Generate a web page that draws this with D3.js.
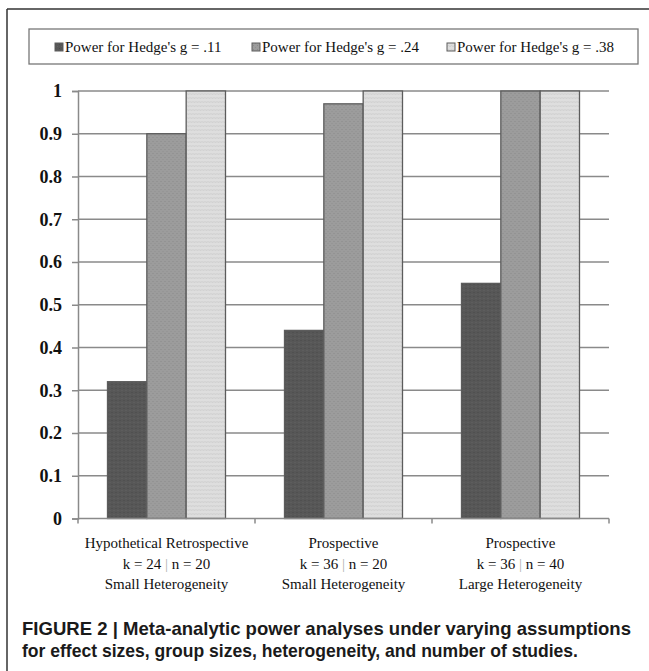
<!DOCTYPE html>
<html>
<head>
<meta charset="utf-8">
<script src="https://cdn.jsdelivr.net/npm/d3@7/dist/d3.min.js"></script>
<style>
  html, body { margin: 0; padding: 0; background: #fff; }
  svg { display: block; }
</style>
</head>
<body>
<svg id="chart" width="649" height="671"></svg>
<script>
// ---- data ----
const categories = [
  ["Hypothetical Retrospective", "k = 24 | n = 20", "Small Heterogeneity"],
  ["Prospective", "k = 36 | n = 20", "Small Heterogeneity"],
  ["Prospective", "k = 36 | n = 40", "Large Heterogeneity"]
];
const seriesNames = ["Power for Hedge's g = .11", "Power for Hedge's g = .24", "Power for Hedge's g = .38"];
const powerG11 = [0.32, 0.44, 0.55];
const powerG24 = [0.90, 0.97, 1.00];
const powerG38 = [1.00, 1.00, 1.00];
const yTicks = [0, 0.1, 0.2, 0.3, 0.4, 0.5, 0.6, 0.7, 0.8, 0.9, 1];
const captionLines = [
  "FIGURE 2 | Meta-analytic power analyses under varying assumptions",
  "for effect sizes, group sizes, heterogeneity, and number of studies."
];

const series = [powerG11, powerG24, powerG38];
const fills = ["url(#patDark)", "url(#patMid)", "url(#patLight)"];

const svg = d3.select("#chart");

// ---- patterns ----
const defs = svg.append("defs");
const pd = defs.append("pattern").attr("id", "patDark").attr("patternUnits", "userSpaceOnUse").attr("width", 4).attr("height", 4);
pd.append("rect").attr("width", 4).attr("height", 4).attr("fill", "#575757");
pd.append("rect").attr("x", 0).attr("y", 0).attr("width", 1).attr("height", 1).attr("fill", "#4a4a4a");
pd.append("rect").attr("x", 2).attr("y", 2).attr("width", 1).attr("height", 1).attr("fill", "#636363");
const pm = defs.append("pattern").attr("id", "patMid").attr("patternUnits", "userSpaceOnUse").attr("width", 4).attr("height", 4);
pm.append("rect").attr("width", 4).attr("height", 4).attr("fill", "#9c9c9c");
pm.append("rect").attr("x", 1).attr("y", 1).attr("width", 1).attr("height", 1).attr("fill", "#8a8a8a");
pm.append("rect").attr("x", 3).attr("y", 3).attr("width", 1).attr("height", 1).attr("fill", "#8f8f8f");
const pl = defs.append("pattern").attr("id", "patLight").attr("patternUnits", "userSpaceOnUse").attr("width", 6).attr("height", 4);
pl.append("rect").attr("width", 6).attr("height", 4).attr("fill", "#dedede");
pl.append("path").attr("d", "M0,3 L1.5,1 L3,3 L4.5,1 L6,3").attr("stroke", "#cdcdcd").attr("stroke-width", 0.8).attr("fill", "none");

// ---- frame ----
svg.append("line").attr("x1", 7).attr("y1", 9).attr("x2", 7).attr("y2", 671).attr("stroke", "#333").attr("stroke-width", 1.5);
svg.append("line").attr("x1", 7).attr("y1", 9).attr("x2", 649).attr("y2", 9).attr("stroke", "#333").attr("stroke-width", 1.5);

// ---- scales ----
const x0 = d3.scaleBand().domain(d3.range(categories.length)).range([78, 609]).paddingInner(1/3).paddingOuter(1/6);
const x1 = d3.scaleBand().domain(d3.range(series.length)).range([0, x0.bandwidth()]);
const y = d3.scaleLinear().domain([0, 1]).range([518.5, 91]);
const step = x0.step();

const gridColor = "#8a8a8a";

// gridlines
svg.append("g").selectAll("line").data(yTicks.slice(1)).join("line")
  .attr("x1", 78).attr("x2", 609)
  .attr("y1", d => y(d)).attr("y2", d => y(d))
  .attr("stroke", gridColor).attr("stroke-width", 1.5);

// bars
const groups = svg.append("g").selectAll("g").data(categories.map((c, i) => i)).join("g")
  .attr("transform", i => `translate(${x0(i)},0)`);
groups.selectAll("rect").data(i => series.map((s, k) => ({ k, v: s[i] }))).join("rect")
  .attr("x", d => x1(d.k))
  .attr("width", x1.bandwidth())
  .attr("y", d => y(d.v))
  .attr("height", d => y(0) - y(d.v))
  .attr("fill", d => fills[d.k])
  .attr("stroke", "#5c5c5c").attr("stroke-width", 1.3);

// y axis
const yAxis = d3.axisLeft(y).tickValues(yTicks).tickSize(6).tickPadding(10)
  .tickFormat(d => d === 0 || d === 1 ? String(d) : d3.format(".1f")(d));
const gy = svg.append("g").attr("transform", "translate(78,0)").call(yAxis);
gy.select(".domain").attr("stroke", gridColor).attr("stroke-width", 1.5);
gy.selectAll(".tick line").attr("stroke", gridColor).attr("stroke-width", 1.5);
gy.selectAll(".tick text")
  .attr("font-family", "'Liberation Serif', 'Times New Roman', serif")
  .attr("font-size", 18).attr("font-weight", "bold").attr("fill", "#111");

// x axis
const gx = svg.append("g").attr("transform", `translate(0,${y(0)})`);
gx.append("line").attr("x1", 78).attr("x2", 609).attr("stroke", gridColor).attr("stroke-width", 1.5);
gx.selectAll("line.tk").data(d3.range(categories.length + 1)).join("line").attr("class", "tk")
  .attr("x1", i => x0.range()[0] + i * step).attr("x2", i => x0.range()[0] + i * step)
  .attr("y1", 0).attr("y2", 5).attr("stroke", gridColor).attr("stroke-width", 1.5);

// category labels
const lab = svg.append("g").attr("font-family", "'Liberation Serif', 'Times New Roman', serif")
  .attr("font-size", 15).attr("fill", "#111").attr("text-anchor", "middle");
categories.forEach((lines, i) => {
  const cx = x0(i) + x0.bandwidth() / 2;
  lines.forEach((ln, j) => {
    const t = lab.append("text").attr("x", cx).attr("y", 548 + j * 20.5);
    if (ln.includes("|")) {
      const parts = ln.split("|");
      t.append("tspan").text(parts[0]);
      t.append("tspan").attr("fill", "#b0b0b0").text("|");
      t.append("tspan").text(parts[1]);
    } else {
      t.text(ln);
    }
  });
});

// legend
svg.append("rect").attr("x", 29).attr("y", 29).attr("width", 609).attr("height", 35)
  .attr("fill", "#fff").attr("stroke", "#777").attr("stroke-width", 1.3);
const legX = [55, 252, 447];
const leg = svg.append("g").selectAll("g").data(seriesNames).join("g")
  .attr("transform", (d, i) => `translate(${legX[i]},0)`);
leg.append("rect").attr("x", 0).attr("y", 43).attr("width", 8).attr("height", 8)
  .attr("fill", (d, i) => fills[i]).attr("stroke", "#5c5c5c").attr("stroke-width", 1);
leg.append("text").attr("x", 10).attr("y", 52)
  .attr("font-family", "'Liberation Serif', 'Times New Roman', serif")
  .attr("font-size", 15).attr("fill", "#111").text(d => d);

// caption
const capW = [609, 556];
svg.append("g").selectAll("text").data(captionLines).join("text")
  .attr("x", 22).attr("y", (d, i) => 635 + i * 22)
  .attr("font-family", "'Liberation Sans Narrow', 'Liberation Sans', Arial, sans-serif")
  .attr("font-weight", "bold").attr("font-size", 19).attr("fill", "#1a1a1a")
  .attr("textLength", (d, i) => capW[i]).attr("lengthAdjust", "spacingAndGlyphs")
  .text(d => d);
</script>
</body>
</html>
